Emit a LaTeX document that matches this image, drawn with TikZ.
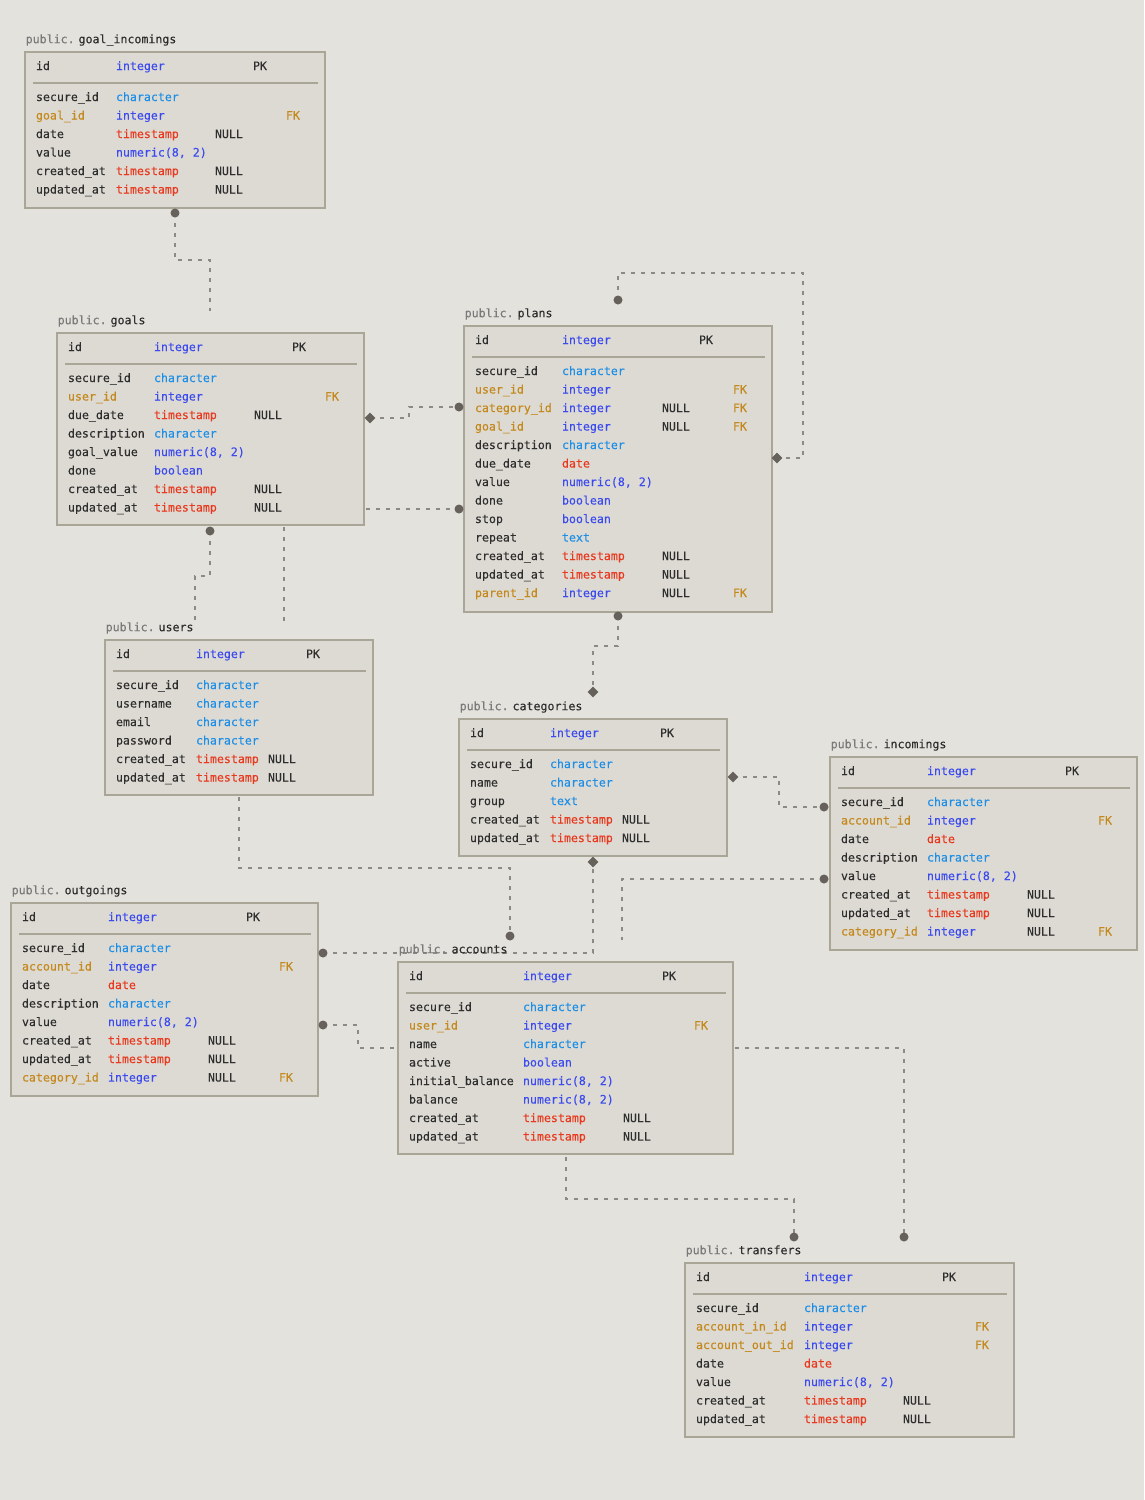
\documentclass[tikz,border=0pt]{standalone}
\usepackage{fontspec}
\newfontfamily\dmono[FakeBold=0.25]{DejaVu Sans Mono}
\usetikzlibrary{shapes.geometric}
\definecolor{bgc}{HTML}{E3E2DD}
\definecolor{boxf}{HTML}{DDDAD3}
\definecolor{boxc}{HTML}{A9A597}
\definecolor{namec}{HTML}{2E2E2E}
\definecolor{pubc}{HTML}{7A7A7A}
\definecolor{intc}{HTML}{3B4BEF}
\definecolor{chrc}{HTML}{1E8FE6}
\definecolor{tsc}{HTML}{E8391E}
\definecolor{fkc}{HTML}{C4891C}
\definecolor{linec}{HTML}{8C8A84}
\definecolor{markc}{HTML}{66625B}
\tikzset{
 box/.style={draw=boxc, fill=boxf, line width=2.6pt, inner sep=0pt, rectangle},
 cell/.style={anchor=base west, inner sep=0pt, outer sep=0pt, font={\dmono\fontsize{11.6}{13}\selectfont}, text=namec},
 fkn/.style={text=fkc}, ityp/.style={text=intc}, ctyp/.style={text=chrc}, ttyp/.style={text=tsc},
 divider/.style={draw=boxc, line width=1.2pt},
 conn/.style={draw=linec, line width=1.3pt, dash pattern=on 4pt off 6pt},
 dotm/.style={circle, fill=markc, inner sep=0pt, minimum size=9pt},
 diam/.style={diamond, fill=markc, inner sep=0pt, minimum width=11pt, minimum height=11pt},
}
\newcommand\tbl[9]{%
 \def\tn{#1}\def\T{#3}\pgfmathsetmacro\cN{#2+11}\def\cT{#6}\def\cU{#7}\def\cK{#8}\def\cF{#9}%
 \node[box, minimum width={#4-#2}, minimum height={#5-#3}] (#1) at ({(#2+#4)/2},{(#3+#5)/2}) {};
 \draw[divider] ({#2+8},{#3+31}) -- ({#4-7},{#3+31});
 \node[cell] (#1-id) at (\cN,{#3+18}) {id};
 \node[cell,ityp] (#1-idt) at (\cT,{#3+18}) {integer};
 \node[cell] (#1-pk) at (\cK,{#3+18}) {PK};
}
\newcommand\ttl[2]{\node[cell] (#1-title) at ([xshift=2pt,yshift=7.5pt]#1.north west) {\textcolor{pubc}{public.}\hspace{4pt}#2};}
\newcommand\fld[5]{%
 \pgfmathsetmacro\yy{\T+49+18.5*(#1-1)}%
 \node[cell,#2] (\tn-n#1) at (\cN,\yy) {#3};
 \node[cell,#4] (\tn-t#1) at (\cT,\yy) {#5};}
\newcommand\nul[1]{\pgfmathsetmacro\yy{\T+49+18.5*(#1-1)}\node[cell] (\tn-u#1) at (\cU,\yy) {NULL};}
\newcommand\fkey[1]{\pgfmathsetmacro\yy{\T+49+18.5*(#1-1)}\node[cell,fkn] (\tn-f#1) at (\cF,\yy) {FK};}
\begin{document}
\begin{tikzpicture}[x=1pt,y=-1pt]
\fill[bgc] (0,0) rectangle (1144,1500);
\useasboundingbox (0,0) rectangle (1144,1500);
% connector end points
\coordinate (gi-dot) at (175,213); \coordinate (go-top) at (210,311);
\coordinate (go-dia) at (370,418); \coordinate (pl-dot1) at (459,407);
\coordinate (go-r) at (366,509); \coordinate (pl-dot2) at (459,509);
\coordinate (pl-dot3) at (618,300); \coordinate (pl-dia) at (777,458);
\coordinate (pl-dot4) at (618,616); \coordinate (ca-dia1) at (593,692);
\coordinate (go-dot) at (210,531); \coordinate (us-t1) at (195,622);
\coordinate (go-b) at (284,527); \coordinate (us-t2) at (284,622);
\coordinate (us-b) at (239,797); \coordinate (ac-dot) at (510,936);
\coordinate (og-dot1) at (323,953); \coordinate (ca-dia2) at (593,862);
\coordinate (ca-dia3) at (733,777); \coordinate (inc-dot1) at (824,807);
\coordinate (inc-dot2) at (824,879); \coordinate (ac-t) at (622,940);
\coordinate (og-dot2) at (323,1025); \coordinate (ac-l) at (398,1048);
\coordinate (ac-r) at (735,1048); \coordinate (tr-dot1) at (904,1237);
\coordinate (ac-b) at (566,1157); \coordinate (tr-dot2) at (794,1237);
% connectors
\draw[conn] (gi-dot) -- (175,260) -- (210,260) -- (go-top);
\draw[conn] (go-dia) -- (409,418) -- (409,407) -- (pl-dot1);
\draw[conn] (go-r) -- (pl-dot2);
\draw[conn] (pl-dot3) -- (618,273) -- (803,273) -- (803,458) -- (pl-dia);
\draw[conn] (pl-dot4) -- (618,646) -- (593,646) -- (ca-dia1);
\draw[conn] (go-dot) -- (210,576) -- (195,576) -- (us-t1);
\draw[conn] (go-b) -- (us-t2);
\draw[conn] (us-b) -- (239,868) -- (510,868) -- (ac-dot);
\draw[conn] (og-dot1) -- (593,953) -- (ca-dia2);
\draw[conn] (ca-dia3) -- (779,777) -- (779,807) -- (inc-dot1);
\draw[conn] (inc-dot2) -- (622,879) -- (ac-t);
\draw[conn] (og-dot2) -- (358,1025) -- (358,1048) -- (ac-l);
\draw[conn] (ac-r) -- (904,1048) -- (tr-dot1);
\draw[conn] (ac-b) -- (566,1199) -- (794,1199) -- (tr-dot2);
% goal_incomings
\tbl{gi}{25}{52}{325}{208}{116}{215}{253}{286}
\ttl{gi}{goal\_incomings}
\fld{1}{}{secure\_id}{ctyp}{character}
\fld{2}{fkn}{goal\_id}{ityp}{integer}\fkey{2}
\fld{3}{}{date}{ttyp}{timestamp}\nul{3}
\fld{4}{}{value}{ityp}{numeric(8, 2)}
\fld{5}{}{created\_at}{ttyp}{timestamp}\nul{5}
\fld{6}{}{updated\_at}{ttyp}{timestamp}\nul{6}
% goals
\tbl{go}{57}{333}{364}{525}{154}{254}{292}{325}
\ttl{go}{goals}
\fld{1}{}{secure\_id}{ctyp}{character}
\fld{2}{fkn}{user\_id}{ityp}{integer}\fkey{2}
\fld{3}{}{due\_date}{ttyp}{timestamp}\nul{3}
\fld{4}{}{description}{ctyp}{character}
\fld{5}{}{goal\_value}{ityp}{numeric(8, 2)}
\fld{6}{}{done}{ityp}{boolean}
\fld{7}{}{created\_at}{ttyp}{timestamp}\nul{7}
\fld{8}{}{updated\_at}{ttyp}{timestamp}\nul{8}
% plans
\tbl{pl}{464}{326}{772}{612}{562}{662}{699}{733}
\ttl{pl}{plans}
\fld{1}{}{secure\_id}{ctyp}{character}
\fld{2}{fkn}{user\_id}{ityp}{integer}\fkey{2}
\fld{3}{fkn}{category\_id}{ityp}{integer}\nul{3}\fkey{3}
\fld{4}{fkn}{goal\_id}{ityp}{integer}\nul{4}\fkey{4}
\fld{5}{}{description}{ctyp}{character}
\fld{6}{}{due\_date}{ttyp}{date}
\fld{7}{}{value}{ityp}{numeric(8, 2)}
\fld{8}{}{done}{ityp}{boolean}
\fld{9}{}{stop}{ityp}{boolean}
\fld{10}{}{repeat}{ctyp}{text}
\fld{11}{}{created\_at}{ttyp}{timestamp}\nul{11}
\fld{12}{}{updated\_at}{ttyp}{timestamp}\nul{12}
\fld{13}{fkn}{parent\_id}{ityp}{integer}\nul{13}\fkey{13}
% users
\tbl{us}{105}{640}{373}{795}{196}{268}{306}{340}
\ttl{us}{users}
\fld{1}{}{secure\_id}{ctyp}{character}
\fld{2}{}{username}{ctyp}{character}
\fld{3}{}{email}{ctyp}{character}
\fld{4}{}{password}{ctyp}{character}
\fld{5}{}{created\_at}{ttyp}{timestamp}\nul{5}
\fld{6}{}{updated\_at}{ttyp}{timestamp}\nul{6}
% categories
\tbl{ca}{459}{719}{727}{856}{550}{622}{660}{690}
\ttl{ca}{categories}
\fld{1}{}{secure\_id}{ctyp}{character}
\fld{2}{}{name}{ctyp}{character}
\fld{3}{}{group}{ctyp}{text}
\fld{4}{}{created\_at}{ttyp}{timestamp}\nul{4}
\fld{5}{}{updated\_at}{ttyp}{timestamp}\nul{5}
% incomings
\tbl{inc}{830}{757}{1137}{950}{927}{1027}{1065}{1098}
\ttl{inc}{incomings}
\fld{1}{}{secure\_id}{ctyp}{character}
\fld{2}{fkn}{account\_id}{ityp}{integer}\fkey{2}
\fld{3}{}{date}{ttyp}{date}
\fld{4}{}{description}{ctyp}{character}
\fld{5}{}{value}{ityp}{numeric(8, 2)}
\fld{6}{}{created\_at}{ttyp}{timestamp}\nul{6}
\fld{7}{}{updated\_at}{ttyp}{timestamp}\nul{7}
\fld{8}{fkn}{category\_id}{ityp}{integer}\nul{8}\fkey{8}
% outgoings
\tbl{og}{11}{903}{318}{1096}{108}{208}{246}{279}
\ttl{og}{outgoings}
\fld{1}{}{secure\_id}{ctyp}{character}
\fld{2}{fkn}{account\_id}{ityp}{integer}\fkey{2}
\fld{3}{}{date}{ttyp}{date}
\fld{4}{}{description}{ctyp}{character}
\fld{5}{}{value}{ityp}{numeric(8, 2)}
\fld{6}{}{created\_at}{ttyp}{timestamp}\nul{6}
\fld{7}{}{updated\_at}{ttyp}{timestamp}\nul{7}
\fld{8}{fkn}{category\_id}{ityp}{integer}\nul{8}\fkey{8}
% accounts
\tbl{ac}{398}{962}{733}{1154}{523}{623}{662}{694}
\ttl{ac}{accounts}
\fld{1}{}{secure\_id}{ctyp}{character}
\fld{2}{fkn}{user\_id}{ityp}{integer}\fkey{2}
\fld{3}{}{name}{ctyp}{character}
\fld{4}{}{active}{ityp}{boolean}
\fld{5}{}{initial\_balance}{ityp}{numeric(8, 2)}
\fld{6}{}{balance}{ityp}{numeric(8, 2)}
\fld{7}{}{created\_at}{ttyp}{timestamp}\nul{7}
\fld{8}{}{updated\_at}{ttyp}{timestamp}\nul{8}
% transfers
\tbl{tr}{685}{1263}{1014}{1437}{804}{903}{942}{975}
\ttl{tr}{transfers}
\fld{1}{}{secure\_id}{ctyp}{character}
\fld{2}{fkn}{account\_in\_id}{ityp}{integer}\fkey{2}
\fld{3}{fkn}{account\_out\_id}{ityp}{integer}\fkey{3}
\fld{4}{}{date}{ttyp}{date}
\fld{5}{}{value}{ityp}{numeric(8, 2)}
\fld{6}{}{created\_at}{ttyp}{timestamp}\nul{6}
\fld{7}{}{updated\_at}{ttyp}{timestamp}\nul{7}
% markers
\node[dotm] (mk1) at (gi-dot) {};
\node[diam] (mk2) at (go-dia) {};
\node[dotm] (mk3) at (pl-dot1) {};
\node[dotm] (mk4) at (pl-dot2) {};
\node[dotm] (mk5) at (pl-dot3) {};
\node[diam] (mk6) at (pl-dia) {};
\node[dotm] (mk7) at (pl-dot4) {};
\node[diam] (mk8) at (ca-dia1) {};
\node[dotm] (mk9) at (go-dot) {};
\node[dotm] (mk10) at (ac-dot) {};
\node[dotm] (mk11) at (og-dot1) {};
\node[diam] (mk12) at (ca-dia2) {};
\node[diam] (mk13) at (ca-dia3) {};
\node[dotm] (mk14) at (inc-dot1) {};
\node[dotm] (mk15) at (inc-dot2) {};
\node[dotm] (mk16) at (og-dot2) {};
\node[dotm] (mk17) at (tr-dot1) {};
\node[dotm] (mk18) at (tr-dot2) {};
\end{tikzpicture}
\end{document}
